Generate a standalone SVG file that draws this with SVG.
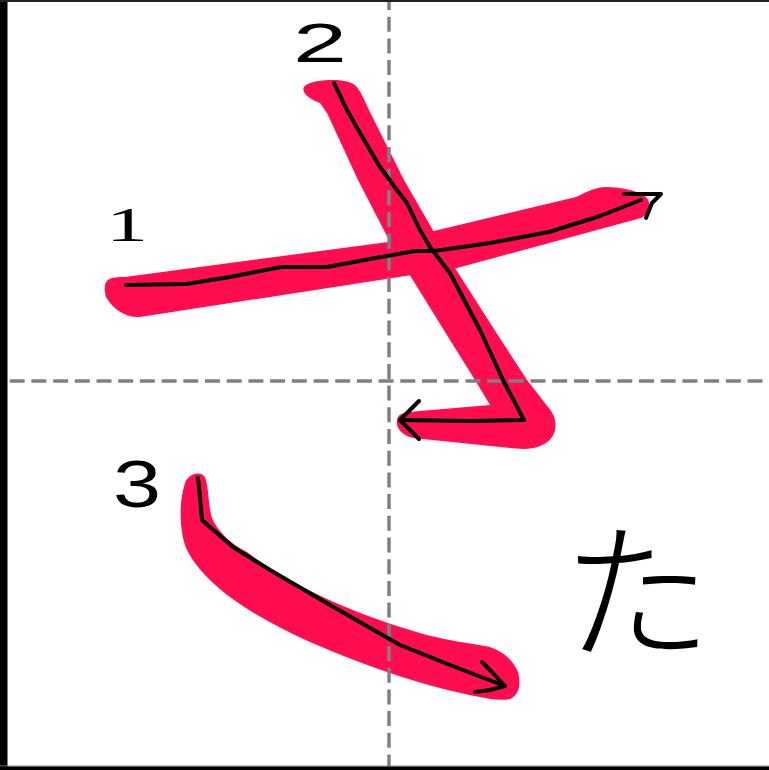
<svg xmlns="http://www.w3.org/2000/svg" width="769" height="770" viewBox="0 0 769 770">
<style>
.ink{fill:#ff0d4e;stroke:none}
.pen{fill:none;stroke:#000;stroke-width:4;stroke-linejoin:round;stroke-linecap:round}
.guide{fill:none;stroke:#808080;stroke-width:3.5;stroke-dasharray:15 6.7}
.num{font-family:"Liberation Sans",sans-serif;fill:#000}
</style>
<rect x="0" y="0" width="769" height="770" fill="#fff"/>
<g id="brush">
<path id="red1" class="ink" d="M108,280 C112,277 118,277 125,277 L388,242 L576,197 C585,193 592,188 605,187 C620,187 635,190 643,195 C652,200 652,212 641,218 L457,268 L140,317 C125,318 112,308 106,297 C104,290 104,283 108,280 Z"/>
<path id="red2" class="ink" d="M320,103 C305,98 298,88 308,84 C320,79 348,78 356,86 C362,93 364,100 370,112 L404,180 L434,232 L455,268 L501,340 L527,380 L548,407 C560,420 558,440 540,446 C530,450 520,449 510,448 L413,438 C400,435 394,425 398,417 C401,412 410,412 420,411 L490,405 L475,380 L450,340 L411,277 L390,242 L358,180 L327,113 Z"/>
<path id="red3" class="ink" d="M185,483 C188,474 200,470 205,477 C209,488 208,505 212,518 C218,532 232,545 247,552 C290,585 350,612 410,630 C440,640 470,643 490,647 C505,652 514,662 518,672 C521,683 520,695 510,699 C500,701 490,699 480,697 C430,688 370,668 310,642 C250,615 205,585 187,550 C180,535 178,505 185,483 Z"/>
</g>
<g id="guides">
<line class="guide" x1="389" y1="-5" x2="389" y2="770"/>
<line class="guide" x1="-12" y1="381" x2="769" y2="381"/>
</g>
<g id="frame">
<rect x="0" y="0" width="7.5" height="770" fill="#000"/>
<rect x="0" y="0" width="769" height="2" fill="#222"/>
<rect x="0" y="765.5" width="769" height="1" fill="#888"/>
<rect x="0" y="766.5" width="769" height="3.5" fill="#000"/>
</g>
<g id="connectors">
<path id="trace1" class="pen" d="M126,285 L186,284 L230,277 L281,267 L327,267 L370,259 L415,251 L434,251 L490,243 L549,232 L600,216 L641,200"/>
<path id="arrow1" class="pen" d="M624,194 L661,194 L652,203 L646,218"/>
<path id="trace2" class="pen" d="M334,83 L347,110 L360,133 L380,167 L397,190 L407,203 L420,230 L430,247 L450,273 L480,330 L503,380 L524,420 L470,421 L400,420"/>
<path id="arrow2" class="pen" d="M419,401 L400,420 L419,439"/>
<path id="trace3" class="pen" d="M198,478 L200,497 L202,520 L210,527 L233,547 L270,570 L330,605 L400,645 L450,665 L505,686"/>
<path id="arrow3" class="pen" d="M482,662 L490,670 L505,686 L490,690 L475,692"/>
</g>
<g id="labels">
<text id="label1" x="106" y="241" font-size="48" textLength="42" lengthAdjust="spacingAndGlyphs" style="font-family:'Liberation Serif',serif;fill:#000">1</text>
<text id="label2" class="num" x="293" y="62" font-size="56" textLength="54" lengthAdjust="spacingAndGlyphs">2</text>
<text id="label3" class="num" x="113" y="507" font-size="66" textLength="48" lengthAdjust="spacingAndGlyphs">3</text>
<text id="kana" x="637" y="648" font-size="150" text-anchor="middle" font-weight="200" style="font-family:'Noto Sans CJK JP','Noto Sans CJK SC',sans-serif">た</text>
</g>
</svg>
